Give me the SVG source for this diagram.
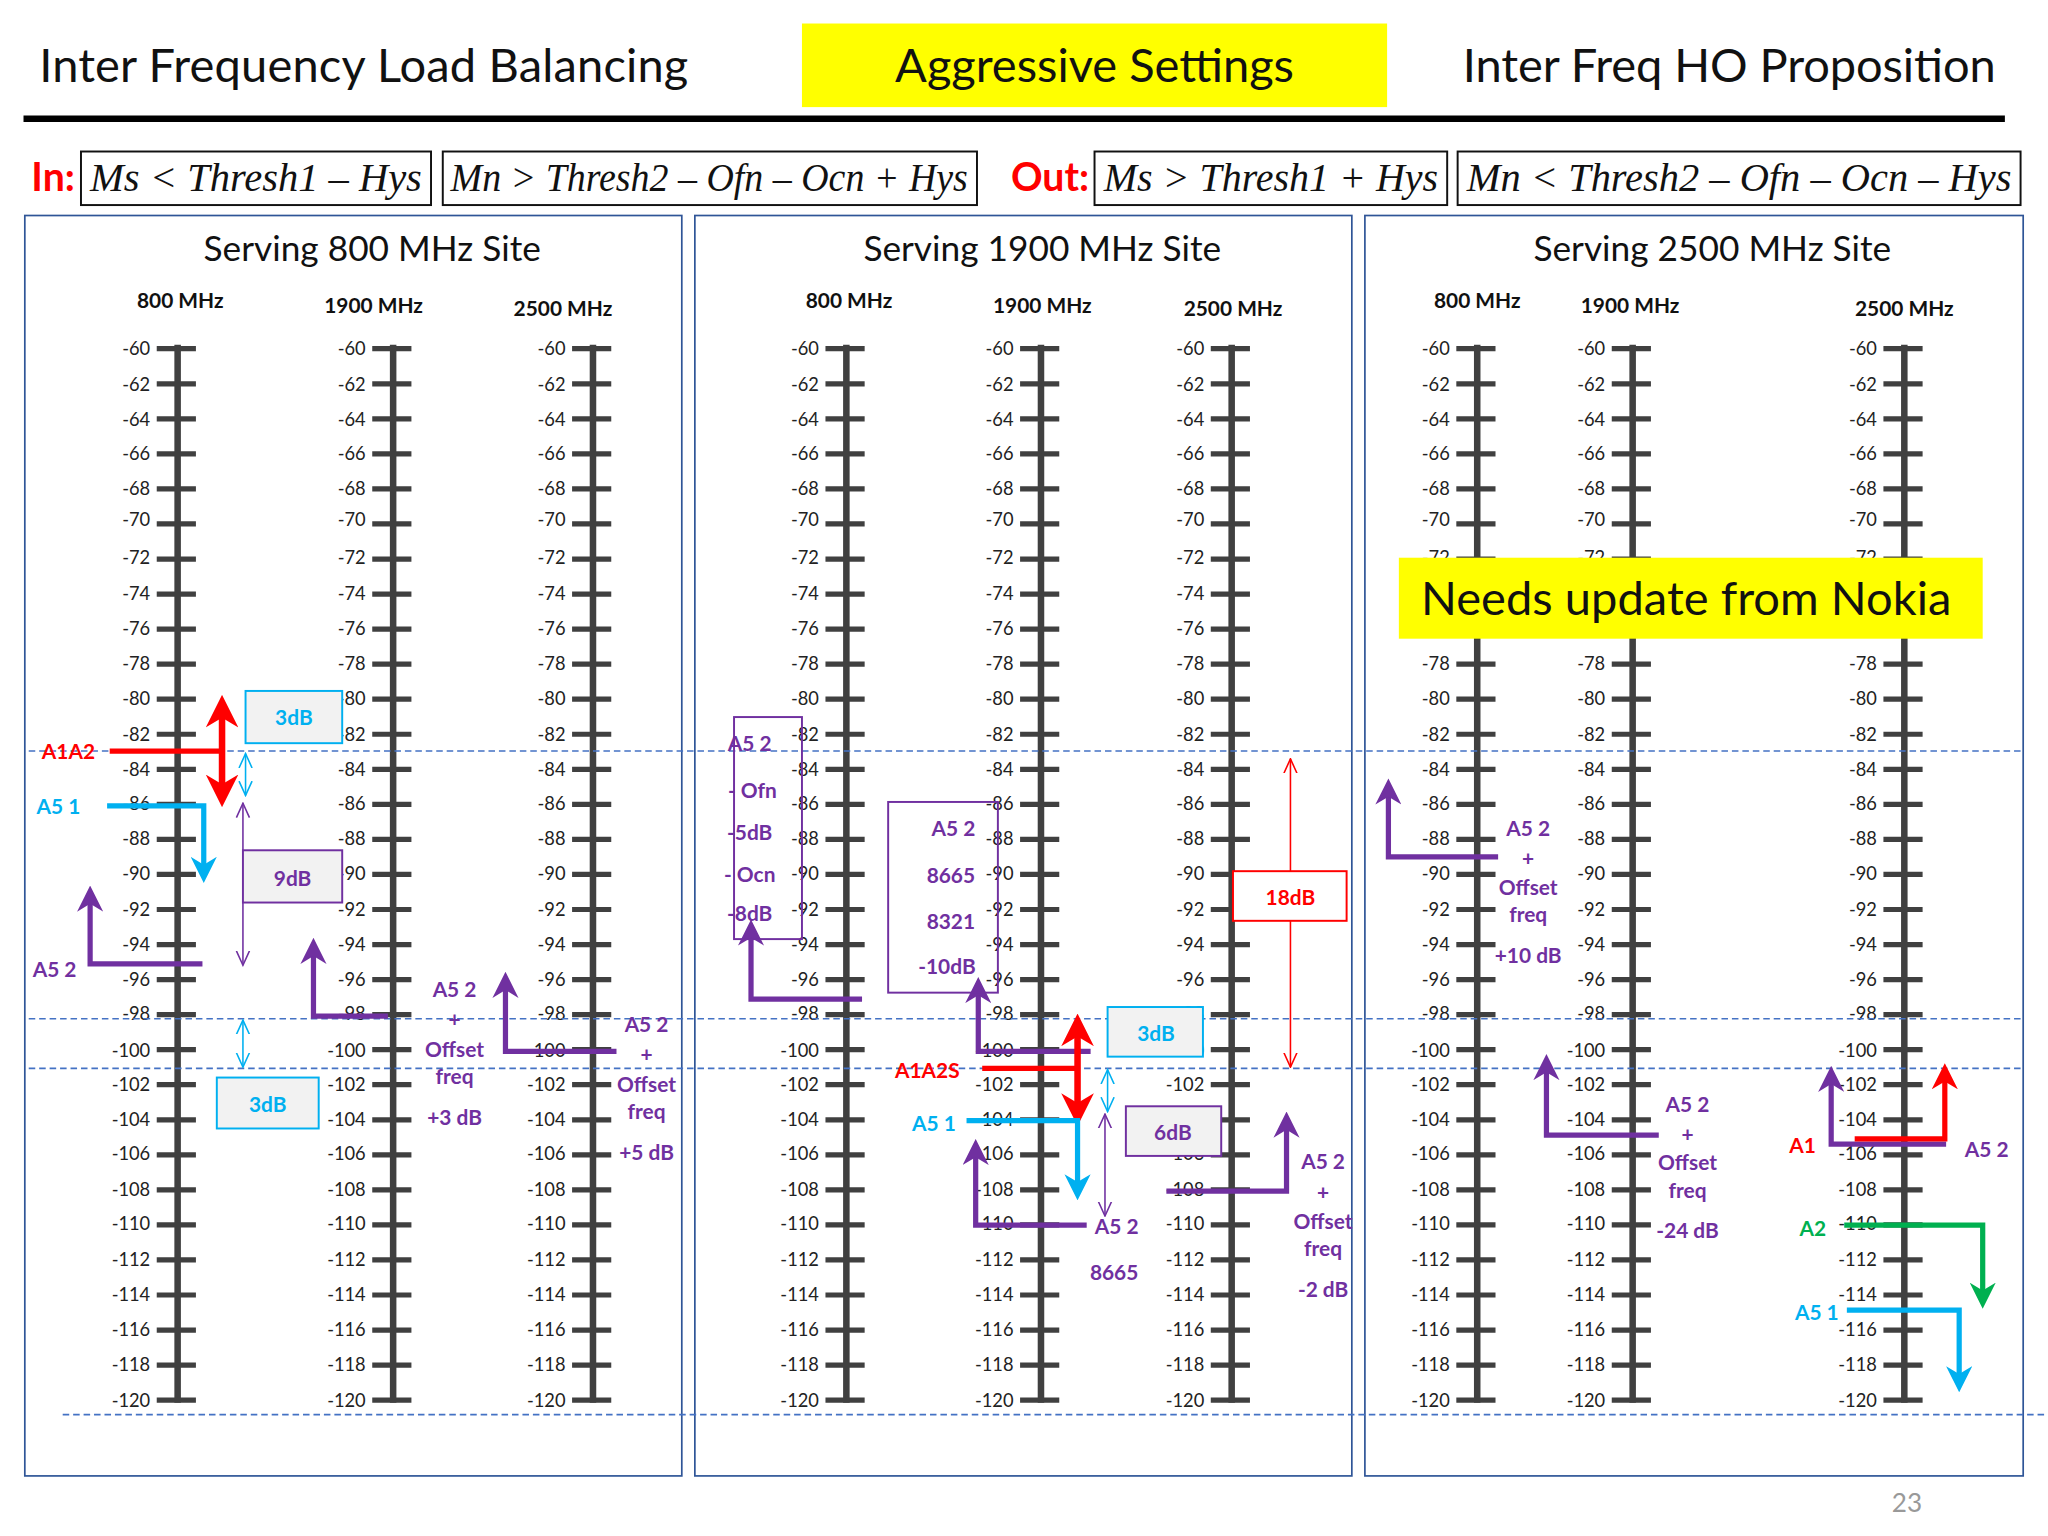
<svg xmlns="http://www.w3.org/2000/svg" width="2048" height="1536" viewBox="0 0 2048 1536">
<style>
text{font-family:Lato,"Open Sans","Liberation Sans",sans-serif}
.t{font-size:36px;fill:#111}
.f{font-family:"Liberation Serif",serif;font-style:italic;font-size:31px;fill:#111}
.fb{fill:none;stroke:#111;stroke-width:1.5}
.pn{fill:none;stroke:#2f5597;stroke-width:1.3}
.pt{font-size:27px;fill:#111;text-anchor:middle}
.h{font-size:16px;font-weight:bold;fill:#111;text-anchor:middle}
.lb{font-size:14px;fill:#222;text-anchor:end}
.dash{stroke:#4472c4;stroke-width:1.3;stroke-dasharray:5 3}
.P{fill:#7030a0}.C{fill:#00b0f0}.R{fill:#ff0000}.G{fill:#00b050}
.a{font-size:16px;font-weight:bold;text-anchor:middle}
.al{font-size:16px;font-weight:bold}
.thk{fill:none;stroke-width:4}
.box{fill:#f2f2f2;stroke-width:1.5}
</style>
<defs>
<marker id="mP" viewBox="0 0 10 10" refX="6" refY="5" markerWidth="5" markerHeight="5" orient="auto-start-reverse"><path d="M0,0 L10,5 L0,10 L3,5z" fill="#7030a0"/></marker>
<marker id="mC" viewBox="0 0 10 10" refX="6" refY="5" markerWidth="5" markerHeight="5" orient="auto-start-reverse"><path d="M0,0 L10,5 L0,10 L3,5z" fill="#00b0f0"/></marker>
<marker id="mR" viewBox="0 0 10 10" refX="6" refY="5" markerWidth="5" markerHeight="5" orient="auto-start-reverse"><path d="M0,0 L10,5 L0,10 L3,5z" fill="#ff0000"/></marker>
<marker id="mG" viewBox="0 0 10 10" refX="6" refY="5" markerWidth="5" markerHeight="5" orient="auto-start-reverse"><path d="M0,0 L10,5 L0,10 L3,5z" fill="#00b050"/></marker>
<marker id="oP" viewBox="0 0 12 12" refX="11" refY="6" markerWidth="12" markerHeight="12" markerUnits="userSpaceOnUse" orient="auto-start-reverse"><path d="M0,1 L11,6 L0,11" fill="none" stroke="#7030a0" stroke-width="1.2"/></marker>
<marker id="oC" viewBox="0 0 12 12" refX="11" refY="6" markerWidth="12" markerHeight="12" markerUnits="userSpaceOnUse" orient="auto-start-reverse"><path d="M0,1 L11,6 L0,11" fill="none" stroke="#00b0f0" stroke-width="1.2"/></marker>
<marker id="oR" viewBox="0 0 12 12" refX="11" refY="6" markerWidth="12" markerHeight="12" markerUnits="userSpaceOnUse" orient="auto-start-reverse"><path d="M0,1 L11,6 L0,11" fill="none" stroke="#ff0000" stroke-width="1.2"/></marker>
<g id="ladder">
<line x1="0" y1="264" x2="0" y2="1074" stroke="#404040" stroke-width="5"/>
<line x1="-1" y1="265" x2="-1" y2="1074" stroke="#404040" stroke-width="30" stroke-dasharray="4 22.833"/>
<g class="lb">
<text x="-21" y="272">-60</text><text x="-21" y="299">-62</text><text x="-21" y="326">-64</text><text x="-21" y="352">-66</text><text x="-21" y="379">-68</text><text x="-21" y="403">-70</text><text x="-21" y="432">-72</text><text x="-21" y="459">-74</text><text x="-21" y="486">-76</text><text x="-21" y="513">-78</text><text x="-21" y="540">-80</text><text x="-21" y="567">-82</text><text x="-21" y="594">-84</text><text x="-21" y="620">-86</text><text x="-21" y="647">-88</text><text x="-21" y="674">-90</text><text x="-21" y="701">-92</text><text x="-21" y="728">-94</text><text x="-21" y="755">-96</text><text x="-21" y="781">-98</text><text x="-21" y="809">-100</text><text x="-21" y="835">-102</text><text x="-21" y="862">-104</text><text x="-21" y="888">-106</text><text x="-21" y="916">-108</text><text x="-21" y="942">-110</text><text x="-21" y="969">-112</text><text x="-21" y="996">-114</text><text x="-21" y="1023">-116</text><text x="-21" y="1050">-118</text><text x="-21" y="1077">-120</text>
</g>
</g>
</defs>
<rect width="2048" height="1536" fill="#fff"/>
<g transform="scale(1.30612)">
<g id="header">
<text class="t" x="30" y="63" textLength="497">Inter Frequency Load Balancing</text>
<rect x="614" y="18" width="448" height="64" fill="#ffff00"/>
<text class="t" x="838" y="63" text-anchor="middle">Aggressive Settings</text>
<text class="t" x="1120" y="63" textLength="408">Inter Freq HO Proposition</text>
<line x1="18" y1="91" x2="1535" y2="91" stroke="#000" stroke-width="5"/>
</g>
<g id="formulas">
<text x="24" y="146" font-size="30" font-weight="bold" fill="#ff0000">In:</text>
<rect class="fb" x="62" y="116" width="268" height="41"/><text class="f" x="69" y="146" textLength="254" lengthAdjust="spacingAndGlyphs">Ms &lt; Thresh1 – Hys</text>
<rect class="fb" x="339" y="116" width="409" height="41"/><text class="f" x="345" y="146" textLength="396" lengthAdjust="spacingAndGlyphs">Mn &gt; Thresh2 – Ofn – Ocn + Hys</text>
<text x="774" y="146" font-size="30" font-weight="bold" fill="#ff0000">Out:</text>
<rect class="fb" x="838" y="116" width="270" height="41"/><text class="f" x="845" y="146" textLength="256" lengthAdjust="spacingAndGlyphs">Ms &gt; Thresh1 + Hys</text>
<rect class="fb" x="1116" y="116" width="431" height="41"/><text class="f" x="1123" y="146" textLength="417" lengthAdjust="spacingAndGlyphs">Mn &lt; Thresh2 – Ofn – Ocn – Hys</text>
</g>
<g id="panels">
<rect class="pn" x="19" y="165" width="503" height="965"/>
<rect class="pn" x="532" y="165" width="503" height="965"/>
<rect class="pn" x="1045" y="165" width="504" height="965"/>
<text class="pt" x="285" y="200">Serving 800 MHz Site</text>
<text class="pt" x="798" y="200">Serving 1900 MHz Site</text>
<text class="pt" x="1311" y="200">Serving 2500 MHz Site</text>
<text class="h" x="138" y="236">800 MHz</text><text class="h" x="286" y="240">1900 MHz</text><text class="h" x="431" y="242">2500 MHz</text>
<text class="h" x="650" y="236">800 MHz</text><text class="h" x="798" y="240">1900 MHz</text><text class="h" x="944" y="242">2500 MHz</text>
<text class="h" x="1131" y="236">800 MHz</text><text class="h" x="1248" y="240">1900 MHz</text><text class="h" x="1458" y="242">2500 MHz</text>
</g>
<g id="ladders">
<use href="#ladder" x="136"/><use href="#ladder" x="301"/><use href="#ladder" x="454"/>
<use href="#ladder" x="648"/><use href="#ladder" x="797"/><use href="#ladder" x="943"/>
<use href="#ladder" x="1131"/><use href="#ladder" x="1250"/><use href="#ladder" x="1458"/>
</g>
<g id="guides">
<line class="dash" x1="22" y1="575" x2="1550" y2="575"/>
<line class="dash" x1="22" y1="780" x2="1550" y2="780"/>
<line class="dash" x1="22" y1="818" x2="1550" y2="818"/>
<line class="dash" x1="48" y1="1083" x2="1568" y2="1083"/>
</g>
<g id="connectors">
<path class="thk" stroke="#ff0000" d="M84,575 H170"/>
<line x1="170" y1="542" x2="170" y2="608" stroke="#ff0000" stroke-width="5" marker-start="url(#mR)" marker-end="url(#mR)"/>
<line x1="188" y1="577" x2="188" y2="609" stroke="#00b0f0" stroke-width="1.2" marker-start="url(#oC)" marker-end="url(#oC)"/>
<path class="thk" stroke="#00b0f0" d="M82,617 H156 V668" marker-end="url(#mC)"/>
<line x1="186" y1="615" x2="186" y2="739" stroke="#7030a0" stroke-width="1.2" marker-start="url(#oP)" marker-end="url(#oP)"/>
<path class="thk" stroke="#7030a0" d="M155,738 H69 V686" marker-end="url(#mP)"/>
<line x1="186" y1="781" x2="186" y2="817" stroke="#00b0f0" stroke-width="1.2" marker-start="url(#oC)" marker-end="url(#oC)"/>
<path class="thk" stroke="#7030a0" d="M297,778 H240 V726" marker-end="url(#mP)"/>
<path class="thk" stroke="#7030a0" d="M472,805 H387 V752" marker-end="url(#mP)"/>
<path class="thk" stroke="#7030a0" d="M660,765 H575 V712" marker-end="url(#mP)"/>
<path class="thk" stroke="#7030a0" d="M835,805 H749 V756" marker-end="url(#mP)"/>
<path class="thk" stroke="#ff0000" d="M752,818 H825"/>
<line x1="825" y1="786" x2="825" y2="852" stroke="#ff0000" stroke-width="5" marker-start="url(#mR)" marker-end="url(#mR)"/>
<path class="thk" stroke="#00b0f0" d="M740,858 H825 V911" marker-end="url(#mC)"/>
<line x1="848" y1="819" x2="848" y2="851" stroke="#00b0f0" stroke-width="1.2" marker-start="url(#oC)" marker-end="url(#oC)"/>
<line x1="846" y1="853" x2="846" y2="931" stroke="#7030a0" stroke-width="1.2" marker-start="url(#oP)" marker-end="url(#oP)"/>
<path class="thk" stroke="#7030a0" d="M832,938 H747 V880" marker-end="url(#mP)"/>
<line x1="988" y1="581" x2="988" y2="817" stroke="#ff0000" stroke-width="1.2" marker-start="url(#oR)" marker-end="url(#oR)"/>
<path class="thk" stroke="#7030a0" d="M893,912 H985 V859" marker-end="url(#mP)"/>
<path class="thk" stroke="#7030a0" d="M1147,656 H1063 V604" marker-end="url(#mP)"/>
<path class="thk" stroke="#7030a0" d="M1270,869 H1184 V815" marker-end="url(#mP)"/>
<path class="thk" stroke="#7030a0" d="M1490,876 H1402 V824" marker-end="url(#mP)"/>
<path class="thk" stroke="#ff0000" d="M1420,872 H1489 V822" marker-end="url(#mR)"/>
<path class="thk" stroke="#00b050" d="M1412,938 H1518 V994" marker-end="url(#mG)"/>
<path class="thk" stroke="#00b0f0" d="M1414,1003 H1500 V1058" marker-end="url(#mC)"/>
</g>
<g id="boxes">
<g id="b3a"><rect class="box" stroke="#00b0f0" x="188" y="529" width="74" height="40"/><text class="a C" x="225" y="555" font-size="17">3dB</text></g>
<g id="b9"><rect class="box" stroke="#7030a0" x="186" y="651" width="76" height="40"/><text class="a P" x="224" y="678" font-size="17">9dB</text></g>
<g id="b3b"><rect class="box" stroke="#00b0f0" x="166" y="825" width="78" height="39"/><text class="a C" x="205" y="851" font-size="17">3dB</text></g>
<g id="bofn"><rect fill="none" stroke="#7030a0" stroke-width="1.5" x="562" y="549" width="52" height="170"/>
<text class="a P" x="574" y="575">A5 2</text><text class="a P" x="576" y="611">- Ofn</text><text class="a P" x="574" y="643">-5dB</text><text class="a P" x="574" y="675">- Ocn</text><text class="a P" x="574" y="705">-8dB</text></g>
<g id="b8665"><rect fill="none" stroke="#7030a0" stroke-width="1.5" x="680" y="614" width="84" height="146"/>
<text class="a P" x="730" y="640">A5 2</text><text class="a P" x="728" y="676">8665</text><text class="a P" x="728" y="711">8321</text><text class="a P" x="725" y="746">-10dB</text></g>
<g id="b3c"><rect class="box" stroke="#00b0f0" x="848" y="771" width="73" height="38"/><text class="a C" x="885" y="797" font-size="17">3dB</text></g>
<g id="b6"><rect class="box" stroke="#7030a0" x="862" y="847" width="73" height="38"/><text class="a P" x="898" y="873" font-size="17">6dB</text></g>
<g id="b18"><rect fill="#fff" stroke="#ff0000" stroke-width="1.5" x="944" y="667" width="87" height="38"/><text class="a R" x="988" y="693" font-size="17">18dB</text></g>
<g id="nokia"><rect x="1071" y="427" width="447" height="62" fill="#ffff00"/><text x="1088" y="471" font-size="36" fill="#111" textLength="406">Needs update from Nokia</text></g>
</g>
<g id="labels">
<text class="al R" x="32" y="581">A1A2</text>
<text class="al C" x="28" y="623">A5 1</text>
<text class="al P" x="25" y="748">A5 2</text>
<text class="a P" x="348" y="763">A5 2</text><text class="a P" x="348" y="786">+</text><text class="a P" x="348" y="809">Offset</text><text class="a P" x="348" y="830">freq</text><text class="a P" x="348" y="861">+3 dB</text>
<text class="a P" x="495" y="790">A5 2</text><text class="a P" x="495" y="813">+</text><text class="a P" x="495" y="836">Offset</text><text class="a P" x="495" y="857">freq</text><text class="a P" x="495" y="888">+5 dB</text>
<text class="a R" x="710" y="825">A1A2S</text>
<text class="a C" x="715" y="866">A5 1</text>
<text class="a P" x="855" y="945">A5 2</text><text class="a P" x="853" y="980">8665</text>
<text class="a P" x="1013" y="895">A5 2</text><text class="a P" x="1013" y="919">+</text><text class="a P" x="1013" y="941">Offset</text><text class="a P" x="1013" y="962">freq</text><text class="a P" x="1013" y="993">-2 dB</text>
<text class="a P" x="1170" y="640">A5 2</text><text class="a P" x="1170" y="663">+</text><text class="a P" x="1170" y="685">Offset</text><text class="a P" x="1170" y="706">freq</text><text class="a P" x="1170" y="737">+10 dB</text>
<text class="a P" x="1292" y="851">A5 2</text><text class="a P" x="1292" y="874">+</text><text class="a P" x="1292" y="896">Offset</text><text class="a P" x="1292" y="917">freq</text><text class="a P" x="1292" y="948">-24 dB</text>
<text class="a R" x="1380" y="883">A1</text>
<text class="a P" x="1521" y="886">A5 2</text>
<text class="a G" x="1388" y="946">A2</text>
<text class="a C" x="1391" y="1011">A5 1</text>
<text x="1460" y="1158" font-size="20" fill="#999" text-anchor="middle">23</text>
</g>
</g>
</svg>
